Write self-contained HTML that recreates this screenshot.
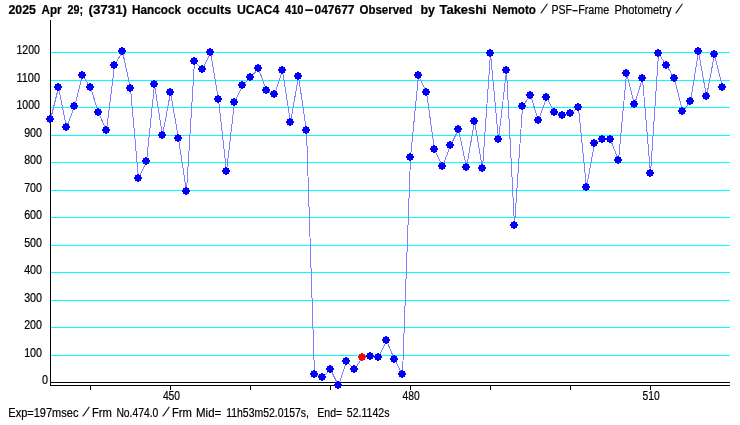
<!DOCTYPE html>
<html><head><meta charset="utf-8"><title>Light curve</title>
<style>
html,body{margin:0;padding:0;background:#fff;}
svg{display:block;}
text{font-family:"Liberation Sans",sans-serif;font-size:12.5px;fill:#000;}
.b{font-weight:bold;}
text{stroke:#000;stroke-width:0.2px;}
</style></head><body>
<svg width="740" height="425" viewBox="0 0 740 425">
<rect x="0" y="0" width="740" height="425" fill="#fff"/>

<g shape-rendering="crispEdges">
<rect x="51" y="52" width="679" height="1" fill="#00ffff"/>
<rect x="51" y="80" width="679" height="1" fill="#00ffff"/>
<rect x="51" y="107" width="679" height="1" fill="#00ffff"/>
<rect x="51" y="135" width="679" height="1" fill="#00ffff"/>
<rect x="51" y="162" width="679" height="1" fill="#00ffff"/>
<rect x="51" y="190" width="679" height="1" fill="#00ffff"/>
<rect x="51" y="217" width="679" height="1" fill="#00ffff"/>
<rect x="51" y="245" width="679" height="1" fill="#00ffff"/>
<rect x="51" y="272" width="679" height="1" fill="#00ffff"/>
<rect x="51" y="300" width="679" height="1" fill="#00ffff"/>
<rect x="51" y="327" width="679" height="1" fill="#00ffff"/>
<rect x="51" y="355" width="679" height="1" fill="#00ffff"/>
<rect x="50" y="20" width="1" height="366" fill="#000"/>
<rect x="50" y="382" width="680" height="1" fill="#000"/>
<rect x="50" y="385" width="680" height="1" fill="#000"/>
<rect x="90" y="386" width="1" height="4" fill="#000"/>
<rect x="170" y="386" width="1" height="4" fill="#000"/>
<rect x="250" y="386" width="1" height="4" fill="#000"/>
<rect x="330" y="386" width="1" height="4" fill="#000"/>
<rect x="410" y="386" width="1" height="4" fill="#000"/>
<rect x="490" y="386" width="1" height="4" fill="#000"/>
<rect x="570" y="386" width="1" height="4" fill="#000"/>
<rect x="650" y="386" width="1" height="4" fill="#000"/>
</g>
<polyline points="50.5,119.5 58.5,87.5 66.5,127.5 74.5,106.5 82.5,75.5 90.5,87.5 98.5,112.5 106.5,130.5 114.5,65.5 122.5,51.5 130.5,88.5 138.5,178.5 146.5,161.5 154.5,84.5 162.5,135.5 170.5,92.5 178.5,138.5 186.5,191.5 194.5,61.5 202.5,69.5 210.5,52.5 218.5,99.5 226.5,171.5 234.5,102.5 242.5,85.5 250.5,77.5 258.5,68.5 266.5,90.5 274.5,94.5 282.5,70.5 290.5,122.5 298.5,76.5 306.5,130.5 314.5,374.5 322.5,377.5 330.5,369.5 338.5,385.5 346.5,361.5 354.5,369.5 362.5,357.5 370.5,356.5 378.5,357.5 386.5,340.5 394.5,359.5 402.5,374.5 410.5,157.5 418.5,75.5 426.5,92.5 434.5,149.5 442.5,166.5 450.5,145.5 458.5,129.5 466.5,167.5 474.5,121.5 482.5,168.5 490.5,53.5 498.5,139.5 506.5,70.5 514.5,225.5 522.5,106.5 530.5,95.5 538.5,120.5 546.5,97.5 554.5,112.5 562.5,115.5 570.5,113.5 578.5,107.5 586.5,187.5 594.5,143.5 602.5,139.5 610.5,139.5 618.5,160.5 626.5,73.5 634.5,104.5 642.5,78.5 650.5,173.5 658.5,53.5 666.5,65.5 674.5,78.5 682.5,111.5 690.5,101.5 698.5,51.5 706.5,96.5 714.5,54.5 722.5,87.5" fill="none" stroke="#8080ff" stroke-width="1" shape-rendering="crispEdges"/>
<g shape-rendering="crispEdges">
<path fill="#0000ff" d="M49 115h2v1h2v2h1v2h-1v2h-2v1h-2v-1h-2v-2h-1v-2h1v-2h2z"/>
<path fill="#0000ff" d="M57 83h2v1h2v2h1v2h-1v2h-2v1h-2v-1h-2v-2h-1v-2h1v-2h2z"/>
<path fill="#0000ff" d="M65 123h2v1h2v2h1v2h-1v2h-2v1h-2v-1h-2v-2h-1v-2h1v-2h2z"/>
<path fill="#0000ff" d="M73 102h2v1h2v2h1v2h-1v2h-2v1h-2v-1h-2v-2h-1v-2h1v-2h2z"/>
<path fill="#0000ff" d="M81 71h2v1h2v2h1v2h-1v2h-2v1h-2v-1h-2v-2h-1v-2h1v-2h2z"/>
<path fill="#0000ff" d="M89 83h2v1h2v2h1v2h-1v2h-2v1h-2v-1h-2v-2h-1v-2h1v-2h2z"/>
<path fill="#0000ff" d="M97 108h2v1h2v2h1v2h-1v2h-2v1h-2v-1h-2v-2h-1v-2h1v-2h2z"/>
<path fill="#0000ff" d="M105 126h2v1h2v2h1v2h-1v2h-2v1h-2v-1h-2v-2h-1v-2h1v-2h2z"/>
<path fill="#0000ff" d="M113 61h2v1h2v2h1v2h-1v2h-2v1h-2v-1h-2v-2h-1v-2h1v-2h2z"/>
<path fill="#0000ff" d="M121 47h2v1h2v2h1v2h-1v2h-2v1h-2v-1h-2v-2h-1v-2h1v-2h2z"/>
<path fill="#0000ff" d="M129 84h2v1h2v2h1v2h-1v2h-2v1h-2v-1h-2v-2h-1v-2h1v-2h2z"/>
<path fill="#0000ff" d="M137 174h2v1h2v2h1v2h-1v2h-2v1h-2v-1h-2v-2h-1v-2h1v-2h2z"/>
<path fill="#0000ff" d="M145 157h2v1h2v2h1v2h-1v2h-2v1h-2v-1h-2v-2h-1v-2h1v-2h2z"/>
<path fill="#0000ff" d="M153 80h2v1h2v2h1v2h-1v2h-2v1h-2v-1h-2v-2h-1v-2h1v-2h2z"/>
<path fill="#0000ff" d="M161 131h2v1h2v2h1v2h-1v2h-2v1h-2v-1h-2v-2h-1v-2h1v-2h2z"/>
<path fill="#0000ff" d="M169 88h2v1h2v2h1v2h-1v2h-2v1h-2v-1h-2v-2h-1v-2h1v-2h2z"/>
<path fill="#0000ff" d="M177 134h2v1h2v2h1v2h-1v2h-2v1h-2v-1h-2v-2h-1v-2h1v-2h2z"/>
<path fill="#0000ff" d="M185 187h2v1h2v2h1v2h-1v2h-2v1h-2v-1h-2v-2h-1v-2h1v-2h2z"/>
<path fill="#0000ff" d="M193 57h2v1h2v2h1v2h-1v2h-2v1h-2v-1h-2v-2h-1v-2h1v-2h2z"/>
<path fill="#0000ff" d="M201 65h2v1h2v2h1v2h-1v2h-2v1h-2v-1h-2v-2h-1v-2h1v-2h2z"/>
<path fill="#0000ff" d="M209 48h2v1h2v2h1v2h-1v2h-2v1h-2v-1h-2v-2h-1v-2h1v-2h2z"/>
<path fill="#0000ff" d="M217 95h2v1h2v2h1v2h-1v2h-2v1h-2v-1h-2v-2h-1v-2h1v-2h2z"/>
<path fill="#0000ff" d="M225 167h2v1h2v2h1v2h-1v2h-2v1h-2v-1h-2v-2h-1v-2h1v-2h2z"/>
<path fill="#0000ff" d="M233 98h2v1h2v2h1v2h-1v2h-2v1h-2v-1h-2v-2h-1v-2h1v-2h2z"/>
<path fill="#0000ff" d="M241 81h2v1h2v2h1v2h-1v2h-2v1h-2v-1h-2v-2h-1v-2h1v-2h2z"/>
<path fill="#0000ff" d="M249 73h2v1h2v2h1v2h-1v2h-2v1h-2v-1h-2v-2h-1v-2h1v-2h2z"/>
<path fill="#0000ff" d="M257 64h2v1h2v2h1v2h-1v2h-2v1h-2v-1h-2v-2h-1v-2h1v-2h2z"/>
<path fill="#0000ff" d="M265 86h2v1h2v2h1v2h-1v2h-2v1h-2v-1h-2v-2h-1v-2h1v-2h2z"/>
<path fill="#0000ff" d="M273 90h2v1h2v2h1v2h-1v2h-2v1h-2v-1h-2v-2h-1v-2h1v-2h2z"/>
<path fill="#0000ff" d="M281 66h2v1h2v2h1v2h-1v2h-2v1h-2v-1h-2v-2h-1v-2h1v-2h2z"/>
<path fill="#0000ff" d="M289 118h2v1h2v2h1v2h-1v2h-2v1h-2v-1h-2v-2h-1v-2h1v-2h2z"/>
<path fill="#0000ff" d="M297 72h2v1h2v2h1v2h-1v2h-2v1h-2v-1h-2v-2h-1v-2h1v-2h2z"/>
<path fill="#0000ff" d="M305 126h2v1h2v2h1v2h-1v2h-2v1h-2v-1h-2v-2h-1v-2h1v-2h2z"/>
<path fill="#0000ff" d="M313 370h2v1h2v2h1v2h-1v2h-2v1h-2v-1h-2v-2h-1v-2h1v-2h2z"/>
<path fill="#0000ff" d="M321 373h2v1h2v2h1v2h-1v2h-2v1h-2v-1h-2v-2h-1v-2h1v-2h2z"/>
<path fill="#0000ff" d="M329 365h2v1h2v2h1v2h-1v2h-2v1h-2v-1h-2v-2h-1v-2h1v-2h2z"/>
<path fill="#0000ff" d="M337 381h2v1h2v2h1v2h-1v2h-2v1h-2v-1h-2v-2h-1v-2h1v-2h2z"/>
<path fill="#0000ff" d="M345 357h2v1h2v2h1v2h-1v2h-2v1h-2v-1h-2v-2h-1v-2h1v-2h2z"/>
<path fill="#0000ff" d="M353 365h2v1h2v2h1v2h-1v2h-2v1h-2v-1h-2v-2h-1v-2h1v-2h2z"/>
<path fill="#ff0000" d="M361 353h2v1h2v2h1v2h-1v2h-2v1h-2v-1h-2v-2h-1v-2h1v-2h2z"/>
<path fill="#0000ff" d="M369 352h2v1h2v2h1v2h-1v2h-2v1h-2v-1h-2v-2h-1v-2h1v-2h2z"/>
<path fill="#0000ff" d="M377 353h2v1h2v2h1v2h-1v2h-2v1h-2v-1h-2v-2h-1v-2h1v-2h2z"/>
<path fill="#0000ff" d="M385 336h2v1h2v2h1v2h-1v2h-2v1h-2v-1h-2v-2h-1v-2h1v-2h2z"/>
<path fill="#0000ff" d="M393 355h2v1h2v2h1v2h-1v2h-2v1h-2v-1h-2v-2h-1v-2h1v-2h2z"/>
<path fill="#0000ff" d="M401 370h2v1h2v2h1v2h-1v2h-2v1h-2v-1h-2v-2h-1v-2h1v-2h2z"/>
<path fill="#0000ff" d="M409 153h2v1h2v2h1v2h-1v2h-2v1h-2v-1h-2v-2h-1v-2h1v-2h2z"/>
<path fill="#0000ff" d="M417 71h2v1h2v2h1v2h-1v2h-2v1h-2v-1h-2v-2h-1v-2h1v-2h2z"/>
<path fill="#0000ff" d="M425 88h2v1h2v2h1v2h-1v2h-2v1h-2v-1h-2v-2h-1v-2h1v-2h2z"/>
<path fill="#0000ff" d="M433 145h2v1h2v2h1v2h-1v2h-2v1h-2v-1h-2v-2h-1v-2h1v-2h2z"/>
<path fill="#0000ff" d="M441 162h2v1h2v2h1v2h-1v2h-2v1h-2v-1h-2v-2h-1v-2h1v-2h2z"/>
<path fill="#0000ff" d="M449 141h2v1h2v2h1v2h-1v2h-2v1h-2v-1h-2v-2h-1v-2h1v-2h2z"/>
<path fill="#0000ff" d="M457 125h2v1h2v2h1v2h-1v2h-2v1h-2v-1h-2v-2h-1v-2h1v-2h2z"/>
<path fill="#0000ff" d="M465 163h2v1h2v2h1v2h-1v2h-2v1h-2v-1h-2v-2h-1v-2h1v-2h2z"/>
<path fill="#0000ff" d="M473 117h2v1h2v2h1v2h-1v2h-2v1h-2v-1h-2v-2h-1v-2h1v-2h2z"/>
<path fill="#0000ff" d="M481 164h2v1h2v2h1v2h-1v2h-2v1h-2v-1h-2v-2h-1v-2h1v-2h2z"/>
<path fill="#0000ff" d="M489 49h2v1h2v2h1v2h-1v2h-2v1h-2v-1h-2v-2h-1v-2h1v-2h2z"/>
<path fill="#0000ff" d="M497 135h2v1h2v2h1v2h-1v2h-2v1h-2v-1h-2v-2h-1v-2h1v-2h2z"/>
<path fill="#0000ff" d="M505 66h2v1h2v2h1v2h-1v2h-2v1h-2v-1h-2v-2h-1v-2h1v-2h2z"/>
<path fill="#0000ff" d="M513 221h2v1h2v2h1v2h-1v2h-2v1h-2v-1h-2v-2h-1v-2h1v-2h2z"/>
<path fill="#0000ff" d="M521 102h2v1h2v2h1v2h-1v2h-2v1h-2v-1h-2v-2h-1v-2h1v-2h2z"/>
<path fill="#0000ff" d="M529 91h2v1h2v2h1v2h-1v2h-2v1h-2v-1h-2v-2h-1v-2h1v-2h2z"/>
<path fill="#0000ff" d="M537 116h2v1h2v2h1v2h-1v2h-2v1h-2v-1h-2v-2h-1v-2h1v-2h2z"/>
<path fill="#0000ff" d="M545 93h2v1h2v2h1v2h-1v2h-2v1h-2v-1h-2v-2h-1v-2h1v-2h2z"/>
<path fill="#0000ff" d="M553 108h2v1h2v2h1v2h-1v2h-2v1h-2v-1h-2v-2h-1v-2h1v-2h2z"/>
<path fill="#0000ff" d="M561 111h2v1h2v2h1v2h-1v2h-2v1h-2v-1h-2v-2h-1v-2h1v-2h2z"/>
<path fill="#0000ff" d="M569 109h2v1h2v2h1v2h-1v2h-2v1h-2v-1h-2v-2h-1v-2h1v-2h2z"/>
<path fill="#0000ff" d="M577 103h2v1h2v2h1v2h-1v2h-2v1h-2v-1h-2v-2h-1v-2h1v-2h2z"/>
<path fill="#0000ff" d="M585 183h2v1h2v2h1v2h-1v2h-2v1h-2v-1h-2v-2h-1v-2h1v-2h2z"/>
<path fill="#0000ff" d="M593 139h2v1h2v2h1v2h-1v2h-2v1h-2v-1h-2v-2h-1v-2h1v-2h2z"/>
<path fill="#0000ff" d="M601 135h2v1h2v2h1v2h-1v2h-2v1h-2v-1h-2v-2h-1v-2h1v-2h2z"/>
<path fill="#0000ff" d="M609 135h2v1h2v2h1v2h-1v2h-2v1h-2v-1h-2v-2h-1v-2h1v-2h2z"/>
<path fill="#0000ff" d="M617 156h2v1h2v2h1v2h-1v2h-2v1h-2v-1h-2v-2h-1v-2h1v-2h2z"/>
<path fill="#0000ff" d="M625 69h2v1h2v2h1v2h-1v2h-2v1h-2v-1h-2v-2h-1v-2h1v-2h2z"/>
<path fill="#0000ff" d="M633 100h2v1h2v2h1v2h-1v2h-2v1h-2v-1h-2v-2h-1v-2h1v-2h2z"/>
<path fill="#0000ff" d="M641 74h2v1h2v2h1v2h-1v2h-2v1h-2v-1h-2v-2h-1v-2h1v-2h2z"/>
<path fill="#0000ff" d="M649 169h2v1h2v2h1v2h-1v2h-2v1h-2v-1h-2v-2h-1v-2h1v-2h2z"/>
<path fill="#0000ff" d="M657 49h2v1h2v2h1v2h-1v2h-2v1h-2v-1h-2v-2h-1v-2h1v-2h2z"/>
<path fill="#0000ff" d="M665 61h2v1h2v2h1v2h-1v2h-2v1h-2v-1h-2v-2h-1v-2h1v-2h2z"/>
<path fill="#0000ff" d="M673 74h2v1h2v2h1v2h-1v2h-2v1h-2v-1h-2v-2h-1v-2h1v-2h2z"/>
<path fill="#0000ff" d="M681 107h2v1h2v2h1v2h-1v2h-2v1h-2v-1h-2v-2h-1v-2h1v-2h2z"/>
<path fill="#0000ff" d="M689 97h2v1h2v2h1v2h-1v2h-2v1h-2v-1h-2v-2h-1v-2h1v-2h2z"/>
<path fill="#0000ff" d="M697 47h2v1h2v2h1v2h-1v2h-2v1h-2v-1h-2v-2h-1v-2h1v-2h2z"/>
<path fill="#0000ff" d="M705 92h2v1h2v2h1v2h-1v2h-2v1h-2v-1h-2v-2h-1v-2h1v-2h2z"/>
<path fill="#0000ff" d="M713 50h2v1h2v2h1v2h-1v2h-2v1h-2v-1h-2v-2h-1v-2h1v-2h2z"/>
<path fill="#0000ff" d="M721 83h2v1h2v2h1v2h-1v2h-2v1h-2v-1h-2v-2h-1v-2h1v-2h2z"/>
</g>
<text x="8.5" y="14" class="b" textLength="27.5" lengthAdjust="spacingAndGlyphs">2025</text>
<text x="41.5" y="14" class="b" textLength="20.0" lengthAdjust="spacingAndGlyphs">Apr</text>
<text x="67.5" y="14" class="b" textLength="15.5" lengthAdjust="spacingAndGlyphs">29;</text>
<text x="88.5" y="14" class="b" textLength="38.5" lengthAdjust="spacingAndGlyphs">(3731)</text>
<text x="132.0" y="14" class="b" textLength="49.0" lengthAdjust="spacingAndGlyphs">Hancock</text>
<text x="187.0" y="14" class="b" textLength="44.2" lengthAdjust="spacingAndGlyphs">occults</text>
<text x="237.0" y="14" class="b" textLength="42.2" lengthAdjust="spacingAndGlyphs">UCAC4</text>
<text x="285.0" y="14" class="b" textLength="18.5" lengthAdjust="spacingAndGlyphs">410</text>
<text x="304.38" y="14" class="b" textLength="9.75" lengthAdjust="spacingAndGlyphs">-</text>
<text x="314.5" y="14" class="b" textLength="40.0" lengthAdjust="spacingAndGlyphs">047677</text>
<text x="359.5" y="14" class="b" textLength="53.0" lengthAdjust="spacingAndGlyphs">Observed</text>
<text x="420.5" y="14" class="b" textLength="14.5" lengthAdjust="spacingAndGlyphs">by</text>
<text x="439.5" y="14" class="b" textLength="47.2" lengthAdjust="spacingAndGlyphs">Takeshi</text>
<text x="492.5" y="14" class="b" textLength="43.5" lengthAdjust="spacingAndGlyphs">Nemoto</text>
<text transform="translate(540.6,13) skewX(-23)" x="0" y="0" stroke="#000" stroke-width="0.35">/</text>
<text x="551.5" y="14" textLength="20.5" lengthAdjust="spacingAndGlyphs">PSF</text>
<text x="571.75" y="14" textLength="6.50" lengthAdjust="spacingAndGlyphs">-</text>
<text x="578.2" y="14" textLength="31.0" lengthAdjust="spacingAndGlyphs">Frame</text>
<text x="614.5" y="14" textLength="57.0" lengthAdjust="spacingAndGlyphs">Photometry</text>
<text transform="translate(675.4,13) skewX(-23)" x="0" y="0" stroke="#000" stroke-width="0.35">/</text>
<text x="8.3" y="417" textLength="70.1" lengthAdjust="spacingAndGlyphs">Exp=197msec</text>
<text transform="translate(82.4,416) skewX(-23)" x="0" y="0" stroke="#000" stroke-width="0.35">/</text>
<text x="91.9" y="417" textLength="19.9" lengthAdjust="spacingAndGlyphs">Frm</text>
<text x="116.4" y="417" textLength="41.9" lengthAdjust="spacingAndGlyphs">No.474.0</text>
<text transform="translate(162.4,416) skewX(-23)" x="0" y="0" stroke="#000" stroke-width="0.35">/</text>
<text x="171.9" y="417" textLength="19.9" lengthAdjust="spacingAndGlyphs">Frm</text>
<text x="196.0" y="417" textLength="25.3" lengthAdjust="spacingAndGlyphs">Mid=</text>
<text x="226.2" y="417" textLength="82.8" lengthAdjust="spacingAndGlyphs">11h53m52.0157s,</text>
<text x="317.3" y="417" textLength="25.0" lengthAdjust="spacingAndGlyphs">End=</text>
<text x="346.8" y="417" textLength="42.7" lengthAdjust="spacingAndGlyphs">52.1142s</text>
<text x="16.5" y="54" textLength="23.5" lengthAdjust="spacingAndGlyphs">1200</text>
<text x="16.5" y="82" textLength="23.5" lengthAdjust="spacingAndGlyphs">1100</text>
<text x="16.5" y="109" textLength="23.5" lengthAdjust="spacingAndGlyphs">1000</text>
<text x="24.2" y="137" textLength="17.8" lengthAdjust="spacingAndGlyphs">900</text>
<text x="24.2" y="164" textLength="17.8" lengthAdjust="spacingAndGlyphs">800</text>
<text x="24.2" y="192" textLength="17.8" lengthAdjust="spacingAndGlyphs">700</text>
<text x="24.2" y="219" textLength="17.8" lengthAdjust="spacingAndGlyphs">600</text>
<text x="24.2" y="247" textLength="17.8" lengthAdjust="spacingAndGlyphs">500</text>
<text x="24.2" y="274" textLength="17.8" lengthAdjust="spacingAndGlyphs">400</text>
<text x="24.2" y="302" textLength="17.8" lengthAdjust="spacingAndGlyphs">300</text>
<text x="24.2" y="329" textLength="17.8" lengthAdjust="spacingAndGlyphs">200</text>
<text x="24.2" y="357" textLength="17.8" lengthAdjust="spacingAndGlyphs">100</text>
<text x="42" y="384" textLength="6" lengthAdjust="spacingAndGlyphs">0</text>
<text x="162.9" y="400" textLength="17.2" lengthAdjust="spacingAndGlyphs">450</text>
<text x="402.5" y="400" textLength="17.2" lengthAdjust="spacingAndGlyphs">480</text>
<text x="642.5" y="400" textLength="17.2" lengthAdjust="spacingAndGlyphs">510</text>
</svg></body></html>
